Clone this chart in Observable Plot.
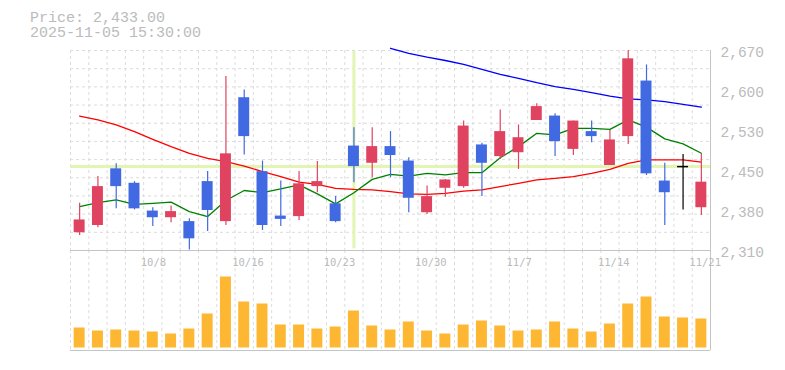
<!DOCTYPE html>
<html><head><meta charset="utf-8">
<script src="https://cdn.jsdelivr.net/npm/d3@7"></script>
<script src="https://cdn.jsdelivr.net/npm/@observablehq/plot@0.6"></script>
<style>
body{margin:0;background:#fff;}
#wrap{position:relative;width:785px;height:370px;overflow:hidden;background:#fff;}
#wrap svg{position:absolute;left:0;}
#title{position:absolute;left:30px;top:11px;font:15px/15px "Liberation Mono",monospace;color:#bbb;white-space:pre;z-index:2;}
</style></head><body>
<div id="wrap"><div id="title">Price: 2,433.00
2025-11-05 15:30:00</div></div>
<script>
const dates = ["10/2","10/3","10/6","10/7","10/8","10/9","10/10","10/14","10/15","10/16",
  "10/17","10/20","10/21","10/22","10/23","10/24","10/27","10/28","10/29","10/30",
  "10/31","11/4","11/5","11/6","11/7","11/10","11/11","11/12","11/13","11/14",
  "11/17","11/18","11/19","11/20","11/21"];
const open  = [2342,2355,2457,2431,2381,2369,2362,2434,2362,2585,2452,2372,2371,2425,2394,2498,2467,2497,2471,2378,2422,2425,2500,2479,2486,2544,2552,2492,2524,2463,2515,2615,2435,2461,2387];
const high  = [2395,2443,2466,2434,2387,2390,2367,2452,2623,2599,2471,2435,2452,2470,2407,2531,2531,2524,2477,2426,2438,2543,2503,2563,2536,2574,2556,2543,2543,2526,2670,2644,2467,2483,2483];
const low   = [2337,2351,2385,2383,2353,2360,2311,2344,2355,2482,2346,2353,2364,2414,2360,2432,2441,2441,2378,2375,2406,2422,2407,2474,2456,2544,2479,2481,2504,2463,2501,2445,2355,2383,2373];
const close = [2365,2425,2425,2385,2369,2380,2331,2382,2484,2515,2355,2366,2430,2434,2362,2461,2497,2481,2404,2407,2437,2534,2467,2524,2513,2569,2506,2543,2515,2509,2655,2448,2414,2461,2433];
const volume = [200,170,180,170,160,140,190,340,710,460,440,230,230,190,210,370,220,180,260,170,140,230,270,220,170,180,260,190,160,240,440,510,310,300,290];
const ma5  = [2389,2396,2401,2393,2395,2397,2380,2371,2400,2418,2414,2421,2428,2412,2394,2414,2438,2447,2444,2449,2446,2450,2450,2477,2497,2521,2518,2530,2530,2528,2545,2532,2511,2502,2485];
const ma25 = [2552,2545,2536,2524,2510,2497,2485,2476,2470,2462,2452,2443,2433,2429,2422,2420,2419,2416,2412,2411,2413,2417,2419,2425,2431,2437,2440,2443,2449,2456,2467,2473,2473,2473,2469];
const ma75 = [null,null,null,null,null,null,null,null,null,null,null,null,null,null,null,null,null,
  2674,2665,2658,2652,2645,2636,2627,2620,2612,2605,2600,2594,2588,2583,2581,2578,2573,2568];
const priceTicks = [2310,2382,2454,2526,2598,2670];
const dateTicks = ["10/8","10/16","10/23","10/30","11/7","11/14","11/21"];
const crossDate = "10/24";
const crossPrice = 2461;

const UP = "#e0435f", DOWN = "#4169e1", DOJI = "#000000";
const rows = dates.map((d, i) => ({i, date: d, open: open[i], high: high[i], low: low[i], close: close[i],
  volume: volume[i], ma5: ma5[i], ma25: ma25[i], ma75: ma75[i]}));
const col = d => d.close > d.open ? UP : d.close < d.open ? DOWN : DOJI;
const bounds = d3.range(0, 35).map(i => i - 0.5);
const gridY = d3.range(1, 12).map(k => 2310 + 360 / 11 * k);
const crossIdx = dates.indexOf(crossDate);
const fmt = d => d3.format(",")(Math.round(d / 10) * 10);
const GRID = "#dcdcdc", AXIS = "#c4c4c4", LABEL = "#bbbbbb";

const price = Plot.plot({
  width: 785, height: 252, marginLeft: 70, marginRight: 75, marginTop: 50, marginBottom: 2,
  x: {domain: [-0.5, 34.5], axis: null},
  y: {domain: [2310, 2670], axis: null},
  style: {background: "transparent", overflow: "visible"},
  marks: [
    Plot.ruleY(gridY, {stroke: GRID, strokeDasharray: "3,3"}),
    Plot.ruleX(bounds, {stroke: GRID, strokeDasharray: "3,3"}),
    Plot.ruleY([crossPrice], {stroke: "#e3f5b3", strokeWidth: 3}),
    Plot.ruleX([crossIdx], {y1: 2668, y2: 2313, stroke: "#e3f5b3", strokeWidth: 3}),
    Plot.line(rows, {x: "i", y: "ma75", stroke: "#0000ff", strokeWidth: 1.3}),
    Plot.line(rows, {x: "i", y: "ma25", stroke: "#ff0000", strokeWidth: 1.3}),
    Plot.line(rows, {x: "i", y: "ma5", stroke: "#008000", strokeWidth: 1.3}),
    Plot.ruleX(rows, {x: "i", y1: "low", y2: "high", stroke: col, strokeWidth: 1.2}),
    Plot.rect(rows.filter(d => d.open !== d.close), {x1: d => d.i - 0.3, x2: d => d.i + 0.3, y1: "open", y2: "close", fill: col}),
    Plot.ruleY(rows.filter(d => d.open === d.close), {x1: d => d.i - 0.3, x2: d => d.i + 0.3, y: "open", stroke: DOJI, strokeWidth: 1.5}),
    Plot.ruleY([2310], {stroke: AXIS}),
    Plot.ruleX([34.5], {stroke: AXIS}),
    Plot.text(priceTicks, {y: d => d, frameAnchor: "right", dx: 10, dy: 2, textAnchor: "start", text: fmt,
      fill: LABEL, fontSize: 14.5, fontFamily: "Liberation Mono"})
  ]
});

const vol = Plot.plot({
  width: 785, height: 120, marginLeft: 70, marginRight: 75, marginTop: 0, marginBottom: 20,
  x: {domain: [-0.5, 34.5], axis: null},
  y: {domain: [0, 1000], range: [97.5, -2.5], axis: null},
  style: {background: "transparent", overflow: "visible"},
  marks: [
    Plot.ruleX(bounds, {stroke: GRID, strokeDasharray: "3,3"}),
    Plot.rect(rows, {x1: d => d.i - 0.3, x2: d => d.i + 0.3, y1: 0, y2: "volume", fill: "#fdb733"}),
    Plot.ruleY([-25], {stroke: AXIS}),
    Plot.ruleX([34.5], {stroke: AXIS}),
    Plot.text(dateTicks, {x: d => dates.indexOf(d), frameAnchor: "top", dy: 12, dx: -12, textAnchor: "start",
      lineAnchor: "middle", text: d => d, fill: LABEL, fontSize: 10.5, fontFamily: "DejaVu Sans Mono"})
  ]
});

const wrap = document.getElementById("wrap");
price.style.top = "0px";
vol.style.top = "250px";
wrap.appendChild(vol);
wrap.appendChild(price);
</script>
</body></html>
